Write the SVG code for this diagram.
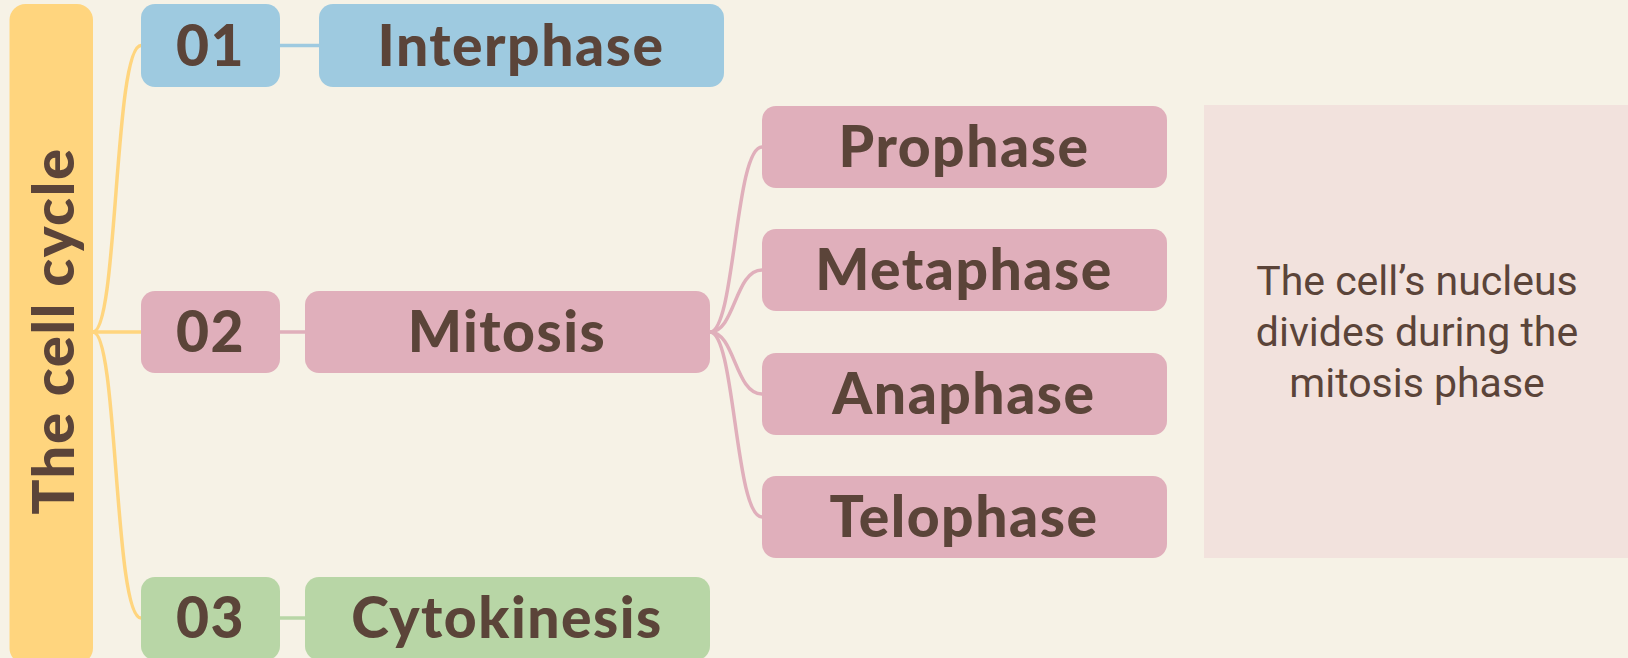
<svg xmlns="http://www.w3.org/2000/svg" width="1628" height="658" viewBox="0 0 1628 658">
  <defs>
    <style>
      .title { font-family: "Lato", "Liberation Sans", sans-serif; font-weight: 900; fill: #5b4439; text-anchor: middle; letter-spacing: 1.5px; }
      .big { font-size: 57px; }
      .desc { font-family: "Roboto", "Liberation Sans", sans-serif; font-size: 41px; fill: #5b4439; text-anchor: middle; }
      .blue { fill: #9ecae0; }
      .pink { fill: #e0afbb; }
      .green { fill: #b8d6a6; }
      .conn { fill: none; stroke-width: 3.5; stroke-linecap: round; }
    </style>
  </defs>
  <rect x="0" y="0" width="1628" height="658" fill="#f6f2e6"/>

  <g id="connectors">
    <path class="conn" stroke="#ffd57e" d="M93,332 C118,332 114,45.5 141,45.5"/>
    <path class="conn" stroke="#ffd57e" d="M93,332 L141,332"/>
    <path class="conn" stroke="#ffd57e" d="M93,332 C118,332 114,618 141,618"/>
    <path class="conn" stroke="#9ecae0" d="M280,45.5 L319,45.5"/>
    <path class="conn" stroke="#e0afbb" d="M280,332 L305,332"/>
    <path class="conn" stroke="#b8d6a6" d="M280,618 L305,618"/>
    <path class="conn" stroke="#e0afbb" d="M710,332 C735,332 735,147 762,147"/>
    <path class="conn" stroke="#e0afbb" d="M710,332 C735,332 735,270 762,270"/>
    <path class="conn" stroke="#e0afbb" d="M710,332 C735,332 735,394 762,394"/>
    <path class="conn" stroke="#e0afbb" d="M710,332 C735,332 735,517 762,517"/>
  </g>

  <g id="root">
    <rect x="9.5" y="4" width="83.5" height="660" rx="16" fill="#ffd57e"/>
    <text class="title" font-size="58" transform="translate(74,331) rotate(-90)">The cell cycle</text>
  </g>

  <g id="n01">
    <rect class="blue" x="141" y="4" width="139" height="83" rx="14"/>
    <text class="title big" x="210.5" y="66">01</text>
  </g>
  <g id="interphase">
    <rect class="blue" x="319" y="4" width="405" height="83" rx="14"/>
    <text class="title big" x="521" y="66">Interphase</text>
  </g>

  <g id="n02">
    <rect class="pink" x="141" y="291" width="139" height="82" rx="14"/>
    <text class="title big" x="210.5" y="352">02</text>
  </g>
  <g id="mitosis">
    <rect class="pink" x="305" y="291" width="405" height="82" rx="14"/>
    <text class="title big" x="507" y="352">Mitosis</text>
  </g>

  <g id="n03">
    <rect class="green" x="141" y="577" width="139" height="83" rx="14"/>
    <text class="title big" x="210.5" y="638">03</text>
  </g>
  <g id="cytokinesis">
    <rect class="green" x="305" y="577" width="405" height="83" rx="14"/>
    <text class="title big" x="507" y="638">Cytokinesis</text>
  </g>

  <g id="prophase">
    <rect class="pink" x="762" y="106" width="405" height="82" rx="14"/>
    <text class="title big" x="964" y="167">Prophase</text>
  </g>
  <g id="metaphase">
    <rect class="pink" x="762" y="229" width="405" height="82" rx="14"/>
    <text class="title big" x="964" y="290">Metaphase</text>
  </g>
  <g id="anaphase">
    <rect class="pink" x="762" y="353" width="405" height="82" rx="14"/>
    <text class="title big" x="964" y="414">Anaphase</text>
  </g>
  <g id="telophase">
    <rect class="pink" x="762" y="476" width="405" height="82" rx="14"/>
    <text class="title big" x="964" y="537">Telophase</text>
  </g>

  <g id="note">
    <rect x="1204" y="105" width="424" height="453" fill="#f2e2dd"/>
    <text class="desc" x="1417" y="295">The cell’s nucleus</text>
    <text class="desc" x="1417" y="346">divides during the</text>
    <text class="desc" x="1417" y="397">mitosis phase</text>
  </g>
</svg>
